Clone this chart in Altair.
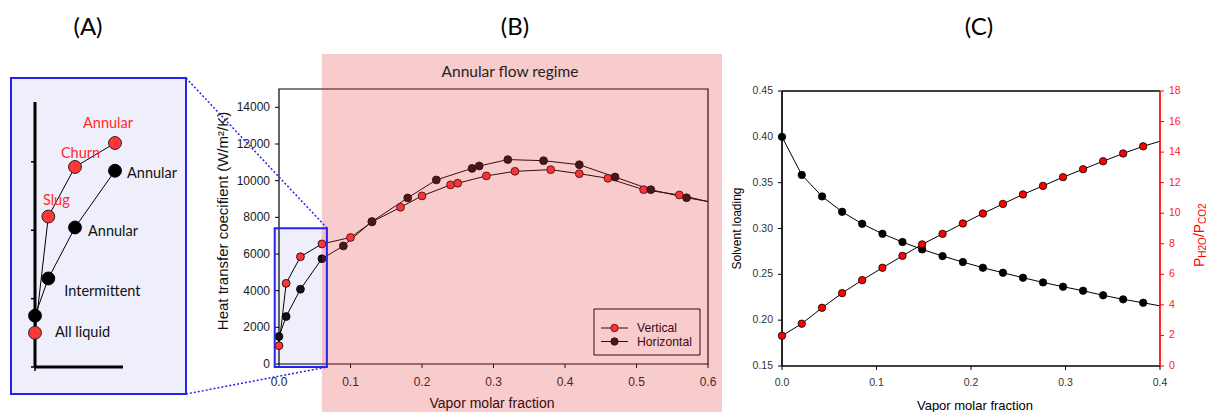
import altair as alt
import pandas as pd

# ---------------- data ----------------
SERIES = ["Vertical", "Horizontal"]

VERT_X = [0.00, 0.01, 0.03, 0.06, 0.10, 0.13, 0.17, 0.20, 0.24, 0.25, 0.29, 0.33, 0.38, 0.42, 0.46, 0.51, 0.56]
VERT_HTC = [1000, 4400, 5850, 6550, 6900, 7750, 8550, 9170, 9770, 9860, 10260, 10510, 10600, 10380, 10130, 9510, 9220]
HORZ_X = [0.00, 0.01, 0.03, 0.06, 0.09, 0.13, 0.18, 0.22, 0.27, 0.28, 0.32, 0.37, 0.42, 0.47, 0.52, 0.57]
HORZ_HTC = [1500, 2590, 4080, 5740, 6440, 7770, 9060, 10040, 10670, 10800, 11150, 11090, 10870, 10200, 9510, 9070]
TAIL_X = 0.60            # curves run on to the plot edge (line only)
TAIL_HTC = [8860, 8860]

C_X = [0.0, 0.0209, 0.0424, 0.0636, 0.0848, 0.1063, 0.1275, 0.1483, 0.1699, 0.1914,
       0.2126, 0.2338, 0.2550, 0.2762, 0.2974, 0.3186, 0.3398, 0.3610, 0.3822]
C_LOADING = [0.400, 0.3585, 0.335, 0.3182, 0.3051, 0.2942, 0.2852, 0.2772, 0.2699, 0.2634,
             0.2572, 0.2517, 0.2463, 0.2412, 0.2365, 0.2321, 0.2271, 0.2227, 0.2190]
C_RATIO = [1.98, 2.77, 3.81, 4.77, 5.62, 6.43, 7.21, 7.96, 8.65, 9.33,
           9.98, 10.61, 11.23, 11.79, 12.36, 12.88, 13.40, 13.91, 14.38]
C_TAIL_X = 0.40
C_TAIL_LOADING = 0.2156
C_TAIL_RATIO = 14.71

A_LABELS = ["All liquid", "Intermittent", "Annular", "Annular", "Slug", "Churn", "Annular"]
A_LABEL_SERIES = ["Vertical", "Horizontal", "Horizontal", "Horizontal", "Vertical", "Vertical", "Vertical"]
A_LABEL_X = [0.0, 0.01, 0.03, 0.06, 0.01, 0.03, 0.06]
A_LABEL_Y = [1000, 2590, 4080, 5740, 4400, 5850, 6550]
A_TICKS = [0, 2000, 4000, 6000]

B_XTICKS = [0.0, 0.1, 0.2, 0.3, 0.4, 0.5, 0.6]
B_XLABELS = ["0.0", "0.1", "0.2", "0.3", "0.4", "0.5", "0.6"]
B_YTICKS = [0, 2000, 4000, 6000, 8000, 10000, 12000, 14000]
B_YLABELS = ["0", "2000", "4000", "6000", "8000", "10000", "12000", "14000"]
C_XTICKS = [0.0, 0.1, 0.2, 0.3, 0.4]
C_XLABELS = ["0.0", "0.1", "0.2", "0.3", "0.4"]
C_LTICKS = [0.15, 0.20, 0.25, 0.30, 0.35, 0.40, 0.45]
C_LLABELS = ["0.15", "0.20", "0.25", "0.30", "0.35", "0.40", "0.45"]
C_RTICKS = [0, 2, 4, 6, 8, 10, 12, 14, 16, 18]
C_RLABELS = ["0", "2", "4", "6", "8", "10", "12", "14", "16", "18"]

ZOOM_X = [-0.006, 0.067]
ZOOM_Y = [-170, 7400]
ANNULAR_START = 0.06

# ---------------- styles ----------------
RED = "#FF3636"
RED_C = "#FF0000"
BLK = "#000000"
BLUE = "#2424F0"
LAV = "#EFEFFC"
PINK = "#E32F37"
SANS = "Liberation Sans"
CAL = "Lato"

rows = []
for xs, ys, s, t in [(VERT_X, VERT_HTC, SERIES[0], TAIL_HTC[0]), (HORZ_X, HORZ_HTC, SERIES[1], TAIL_HTC[1])]:
    for x, y in zip(xs, ys):
        rows.append(dict(x=x, y=y, series=s, marker=True))
    rows.append(dict(x=TAIL_X, y=t, series=s, marker=False))
bdf = pd.DataFrame(rows)

crow = [dict(x=x, loading=l, ratio=r, marker=True) for x, l, r in zip(C_X, C_LOADING, C_RATIO)]
crow.append(dict(x=C_TAIL_X, loading=C_TAIL_LOADING, ratio=C_TAIL_RATIO, marker=False))
cdf = pd.DataFrame(crow)

one = pd.DataFrame({"k": [0]})


def dq(v):
    return alt.datum(v, type="quantitative", axis=None)


def ticks_df(vals, labs):
    return pd.DataFrame({"v": vals, "lab": labs})


# ---------------- panel A ----------------
xa = alt.Scale(domain=[0, 0.066], range=[35, 123], nice=False, zero=False)
ya = alt.Scale(domain=[0, 7750], range=[367, 102], nice=False, zero=False)

a_box = alt.Chart(one).mark_rect(fill=LAV, stroke=BLUE, strokeWidth=2).encode(
    x=alt.value(11), x2=alt.value(186), y=alt.value(78), y2=alt.value(394))
a_base = alt.Chart(bdf).transform_filter("datum.marker && datum.x <= 0.061")
a_line = a_base.mark_line(color=BLK, strokeWidth=1).encode(
    x=alt.X("x:Q", scale=xa, axis=None), y=alt.Y("y:Q", scale=ya, axis=None), detail="series:N")
a_vax = alt.Chart(one).mark_rule(color=BLK, strokeWidth=3).encode(
    x=dq(0), y=dq(0), y2=alt.datum(7750))
a_hax = alt.Chart(one).mark_rule(color=BLK, strokeWidth=3).encode(
    x=dq(0), x2=alt.datum(0.066), y=dq(0))
a_ticks = alt.Chart(pd.DataFrame({"t": A_TICKS})).mark_rule(color=BLK, strokeWidth=1.5, x2Offset=-4).encode(
    x=dq(0), x2=alt.datum(0), y=alt.Y("t:Q", axis=None))
a_btick = alt.Chart(one).mark_rule(color=BLK, strokeWidth=1.5, y2Offset=4).encode(
    x=dq(0), y=dq(0), y2=alt.datum(0))
a_pv = a_base.transform_filter(f"datum.series == '{SERIES[0]}'").mark_circle(
    size=165, fill=RED, stroke="#222", strokeWidth=1, opacity=1).encode(x="x:Q", y="y:Q")
a_ph = a_base.transform_filter(f"datum.series == '{SERIES[1]}'").mark_circle(
    size=165, fill=BLK, stroke=BLK, strokeWidth=1, opacity=1).encode(x="x:Q", y="y:Q")

A_OFFS = [(20, 0, "left"), (16, 14, "left"), (13, 5, "left"), (12, 3, "left"),
          (8, -16, "center"), (5.5, -13, "center"), (-7, -19.5, "center")]
a_texts = []
for lab, ser, lx, ly, (dx, dy, al) in zip(A_LABELS, A_LABEL_SERIES, A_LABEL_X, A_LABEL_Y, A_OFFS):
    col = "#FF2A2A" if (ser == SERIES[0] and lab != "All liquid") else "#111"
    a_texts.append(
        alt.Chart(pd.DataFrame({"x": [lx], "y": [ly], "t": [lab]})).mark_text(
            dx=dx, dy=dy, align=al, baseline="middle", font=CAL, fontSize=14.5, color=col
        ).encode(x="x:Q", y="y:Q", text="t:N"))

panel_a = alt.layer(a_box, a_line, a_vax, a_hax, a_ticks, a_btick, a_pv, a_ph, *a_texts)

# ---------------- panel B ----------------
xb = alt.Scale(domain=[0, 0.6], range=[279, 708], nice=False, zero=False)
yb = alt.Scale(domain=[0, 15000], range=[364, 89], nice=False, zero=False)

b_lav = alt.Chart(one).mark_rect(fill=LAV, strokeWidth=0).encode(
    x=alt.datum(ZOOM_X[0], type="quantitative", axis=None, scale=xb), x2=alt.datum(ZOOM_X[1]),
    y=alt.datum(ZOOM_Y[0], type="quantitative", axis=None, scale=yb), y2=alt.datum(ZOOM_Y[1]))
b_xt = alt.Chart(ticks_df(B_XTICKS, B_XLABELS))
b_yt = alt.Chart(ticks_df(B_YTICKS, B_YLABELS))
b_xtick = b_xt.mark_rule(color=BLK, strokeWidth=1, y2Offset=4).encode(
    x=alt.X("v:Q", axis=None), y=dq(0), y2=alt.datum(0))
b_ytick = b_yt.mark_rule(color=BLK, strokeWidth=1, x2Offset=-4).encode(
    y=alt.Y("v:Q", axis=None), x=dq(0), x2=alt.datum(0))
b_xlab = b_xt.mark_text(dy=17.5, align="center", baseline="middle", font=SANS, fontSize=12,
                        color="#1a1a1a").encode(x=alt.X("v:Q", axis=None), y=dq(0), text="lab:N")
b_ylab = b_yt.mark_text(dx=-9, align="right", baseline="middle", font=SANS, fontSize=12,
                        color="#1a1a1a").encode(y=alt.Y("v:Q", axis=None), x=dq(0), text="lab:N")
b_frame = alt.Chart(one).mark_rect(fill="transparent", stroke=BLK, strokeWidth=1.2).encode(
    x=dq(0), x2=alt.datum(0.6), y=dq(0), y2=alt.datum(15000))
b_line = alt.Chart(bdf).mark_line(color=BLK, strokeWidth=1).encode(
    x=alt.X("x:Q", axis=None), y=alt.Y("y:Q", axis=None), detail="series:N")
b_pv = alt.Chart(bdf).transform_filter(f"datum.marker && datum.series == '{SERIES[0]}'").mark_circle(
    size=62, fill=RED, stroke=BLK, strokeWidth=0.8, opacity=1).encode(
    x=alt.X("x:Q", axis=None), y=alt.Y("y:Q", axis=None))
b_ph = alt.Chart(bdf).transform_filter(f"datum.marker && datum.series == '{SERIES[1]}'").mark_circle(
    size=62, fill="#111", stroke=BLK, strokeWidth=0.8, opacity=1).encode(
    x=alt.X("x:Q", axis=None), y=alt.Y("y:Q", axis=None))

leg = [alt.Chart(one).mark_rect(fill="transparent", stroke=BLK, strokeWidth=1).encode(
    x=alt.value(594), x2=alt.value(700), y=alt.value(309), y2=alt.value(355))]
for name, fill, yy in zip(SERIES, [RED, "#111"], [328, 341.5]):
    leg.append(alt.Chart(one).mark_rule(color=BLK, strokeWidth=1).encode(
        x=alt.value(601), x2=alt.value(628), y=alt.value(yy)))
    leg.append(alt.Chart(one).mark_circle(size=55, fill=fill, stroke=BLK, strokeWidth=0.8, opacity=1).encode(
        x=alt.value(614.5), y=alt.value(yy)))
    leg.append(alt.Chart(pd.DataFrame({"t": [name]})).mark_text(
        align="left", baseline="middle", font=SANS, fontSize=12.2, color=BLK).encode(
        x=alt.value(637), y=alt.value(yy), text="t:N"))

b_xtitle = alt.Chart(one).mark_text(text="Vapor molar fraction", font=SANS, fontSize=14, color=BLK,
                                    align="center", baseline="alphabetic").encode(
    x=alt.value(492), y=alt.value(407.5))
b_ytitle = alt.Chart(one).mark_text(text="Heat transfer coecifient (W/m²/K)", font=SANS, fontSize=15,
                                    color="#111", angle=270, align="center", baseline="middle").encode(
    x=alt.value(222.5), y=alt.value(221))
b_overlay = alt.Chart(one).mark_rect(fill=PINK, opacity=0.25, strokeWidth=0).encode(
    x=dq(ANNULAR_START), x2=alt.value(722), y=alt.value(54), y2=alt.value(412))
b_blue = alt.Chart(one).mark_rect(fill="transparent", stroke=BLUE, strokeWidth=2).encode(
    x=dq(ZOOM_X[0]), x2=alt.datum(ZOOM_X[1]), y=dq(ZOOM_Y[0]), y2=alt.datum(ZOOM_Y[1]))
b_regime = alt.Chart(one).mark_text(text="Annular flow regime", font=CAL, fontSize=15.5, color="#262222",
                                    align="center", baseline="middle").encode(
    x=alt.value(510), y=alt.value(72))

panel_b = alt.layer(b_lav, b_xtick, b_ytick, b_xlab, b_ylab, b_frame, b_line, b_pv, b_ph, *leg,
                    b_xtitle, b_ytitle, b_overlay, b_blue, b_regime)

# connector lines between the zoom box in (B) and panel (A)
dots = []
for (x1, y1, x2, y2) in [(186, 78, 327, 228), (186, 394, 327, 367)]:
    dots.append(alt.Chart(one).mark_rule(color=BLUE, strokeWidth=1.5, strokeDash=[2, 2]).encode(
        x=alt.value(x1), y=alt.value(y1), x2=alt.value(x2), y2=alt.value(y2)))

# ---------------- panel C ----------------
xc = alt.Scale(domain=[0, 0.4], range=[782, 1160], nice=False, zero=False)
ycl = alt.Scale(domain=[0.15, 0.45], range=[366, 91], nice=False, zero=False)
ycr = alt.Scale(domain=[0, 18], range=[366, 91], nice=False, zero=False)

c_xt = alt.Chart(ticks_df(C_XTICKS, C_XLABELS))
c_lt = alt.Chart(ticks_df(C_LTICKS, C_LLABELS))
c_frame = [
    alt.Chart(one).mark_rule(color=BLK, strokeWidth=1.7).encode(
        x=alt.datum(0, type="quantitative", axis=None, scale=xc), x2=alt.datum(0.4),
        y=alt.datum(0.45, type="quantitative", axis=None, scale=ycl)),
    alt.Chart(one).mark_rule(color=BLK, strokeWidth=1.7).encode(
        x=dq(0), x2=alt.datum(0.4), y=dq(0.15)),
    alt.Chart(one).mark_rule(color=BLK, strokeWidth=1.7).encode(
        x=dq(0), y=dq(0.15), y2=alt.datum(0.45)),
]
c_xtick = c_xt.mark_rule(color=BLK, strokeWidth=1, y2Offset=4).encode(
    x=alt.X("v:Q", axis=None), y=dq(0.15), y2=alt.datum(0.15))
c_ltick = c_lt.mark_rule(color=BLK, strokeWidth=1, x2Offset=-4).encode(
    y=alt.Y("v:Q", axis=None), x=dq(0), x2=alt.datum(0))
c_xlab = c_xt.mark_text(dy=17.3, align="center", baseline="middle", font=SANS, fontSize=10.5,
                        color="#333").encode(x=alt.X("v:Q", axis=None), y=dq(0.15), text="lab:N")
c_llab = c_lt.mark_text(dx=-9, align="right", baseline="middle", font=SANS, fontSize=10.5,
                        color="#333").encode(y=alt.Y("v:Q", axis=None), x=dq(0), text="lab:N")
c_lline = alt.Chart(cdf).mark_line(color=BLK, strokeWidth=1).encode(
    x=alt.X("x:Q", axis=None), y=alt.Y("loading:Q", axis=None))
c_lpts = alt.Chart(cdf).transform_filter("datum.marker").mark_circle(
    size=55, fill=BLK, stroke=BLK, strokeWidth=0.8, opacity=1).encode(
    x=alt.X("x:Q", axis=None), y=alt.Y("loading:Q", axis=None))
c_left = alt.layer(*c_frame, c_xtick, c_ltick, c_xlab, c_llab, c_lline, c_lpts)

c_rt = alt.Chart(ticks_df(C_RTICKS, C_RLABELS))
c_raxis = alt.Chart(one).mark_rule(color="#FF0000", strokeWidth=1.7).encode(
    x=alt.datum(0.4, type="quantitative", axis=None, scale=xc),
    y=alt.datum(0, type="quantitative", axis=None, scale=ycr), y2=alt.datum(18))
c_rtick = c_rt.mark_rule(color="#FF0000", strokeWidth=1, x2Offset=4).encode(
    y=alt.Y("v:Q", axis=None), x=dq(0.4), x2=alt.datum(0.4))
c_rlab = c_rt.mark_text(dx=9, align="left", baseline="middle", font=SANS, fontSize=10.5,
                        color="#FF1A1A").encode(y=alt.Y("v:Q", axis=None), x=dq(0.4), text="lab:N")
c_rline = alt.Chart(cdf).mark_line(color=BLK, strokeWidth=1).encode(
    x=alt.X("x:Q", axis=None), y=alt.Y("ratio:Q", axis=None))
c_rpts = alt.Chart(cdf).transform_filter("datum.marker").mark_circle(
    size=55, fill=RED_C, stroke=BLK, strokeWidth=0.8, opacity=1).encode(
    x=alt.X("x:Q", axis=None), y=alt.Y("ratio:Q", axis=None))
c_right = alt.layer(c_raxis, c_rtick, c_rlab, c_rline, c_rpts)

panel_c = alt.layer(c_left, c_right).resolve_scale(y="independent")

# ---------------- free text ----------------
texts = []
for t, x in zip(["(A)", "(B)", "(C)"], [88, 515, 979]):
    texts.append(alt.Chart(one).mark_text(text=t, font=CAL, fontSize=24, color=BLK,
                                          align="center", baseline="middle").encode(
        x=alt.value(x), y=alt.value(28)))
texts.append(alt.Chart(one).mark_text(text="Vapor molar fraction", font=SANS, fontSize=13, color=BLK,
                                      align="center", baseline="alphabetic").encode(
    x=alt.value(975), y=alt.value(409.5)))
texts.append(alt.Chart(one).mark_text(text="Solvent loading", font=SANS, fontSize=12, color=BLK,
                                      angle=270, align="center", baseline="middle").encode(
    x=alt.value(737), y=alt.value(228.5)))
# right axis title P_H2O / P_CO2 built from pieces
for t, yy, xx, fs in [("P", 267, 1203.5, 14), ("H2O", 257.7, 1205.5, 10),
                      ("/P", 237.1, 1203.5, 14), ("CO2", 223.9, 1205.5, 10)]:
    texts.append(alt.Chart(one).mark_text(text=t, font=SANS, fontSize=fs, color="#FF0000",
                                          angle=270, align="left", baseline="alphabetic").encode(
        x=alt.value(xx), y=alt.value(yy)))

chart = alt.layer(panel_a, panel_b, panel_c, *dots, *texts).resolve_scale(
    x="independent", y="independent"
).properties(
    width=1206, height=412, autosize=alt.AutoSizeParams(type="none"), padding=0, background="white"
).configure_view(stroke=None)

chart.save("out.html", embed_options={"renderer": "svg", "actions": False})
